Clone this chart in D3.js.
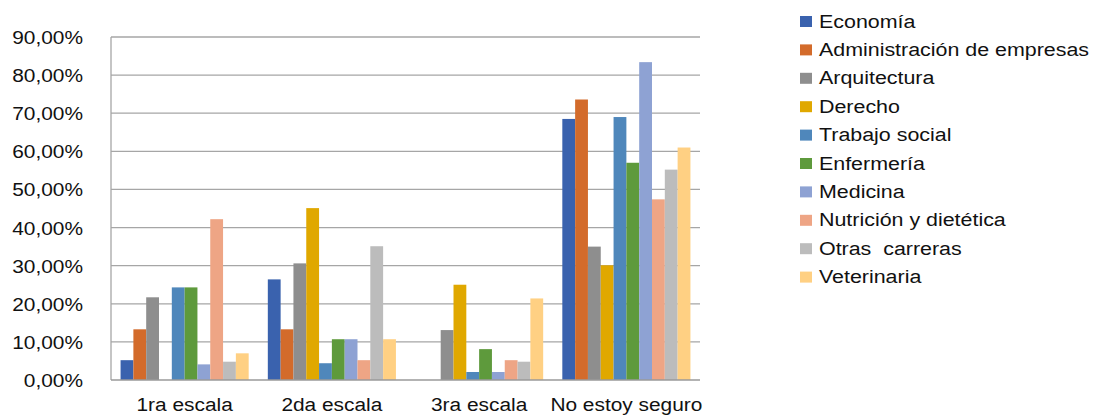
<!DOCTYPE html>
<html>
<head>
<meta charset="utf-8">
<script src="https://cdn.jsdelivr.net/npm/d3@7"></script>
<style>
  html, body { margin: 0; padding: 0; background: #ffffff; }
  svg { display: block; }
  text { font-family: "Liberation Sans", Arial, Helvetica, sans-serif; fill: #111111; }
</style>
</head>
<body>
<svg id="chart" width="1093" height="416"></svg>
<script>
const categories = ["1ra escala", "2da escala", "3ra escala", "No estoy seguro"];
const seriesNames = ["Economía", "Administración de empresas", "Arquitectura", "Derecho",
  "Trabajo social", "Enfermería", "Medicina", "Nutrición y dietética", "Otras  carreras", "Veterinaria"];
const seriesColors = ["#3A62AE", "#D36B2B", "#8E8E8E", "#E0A800", "#4F87BB",
  "#5E9A3C", "#8EA2D3", "#EEA585", "#BCBCBC", "#FFD083"];
// values in percent, one array per series, in category order
const economia      = [5.2, 26.4, 0, 68.5];
const administracion = [13.3, 13.3, 0, 73.6];
const arquitectura  = [21.7, 30.6, 13.1, 35.0];
const derecho       = [0, 45.1, 25.0, 30.1];
const trabajoSocial = [24.3, 4.4, 2.1, 69.0];
const enfermeria    = [24.3, 10.7, 8.1, 57.0];
const medicina      = [4.1, 10.7, 2.1, 83.4];
const nutricion     = [42.2, 5.2, 5.2, 47.4];
const otras         = [4.8, 35.1, 4.8, 55.2];
const veterinaria   = [7.0, 10.7, 21.4, 61.0];
const seriesValues = [economia, administracion, arquitectura, derecho, trabajoSocial,
  enfermeria, medicina, nutricion, otras, veterinaria];
const yTicks = [0, 10, 20, 30, 40, 50, 60, 70, 80, 90];
const tickLabel = v => v.toFixed(2).replace(".", ",") + "%";

const svg = d3.select("#chart");
const plot = { left: 111, right: 700, top: 37, bottom: 380 };
const SX = 1.16; // horizontal text stretch
const fontSize = 18;

const y = d3.scaleLinear().domain([0, 90]).range([plot.bottom, plot.top]);
const x0 = d3.scaleBand().domain(categories).range([plot.left, plot.right])
  .paddingInner(0.13).paddingOuter(0.065);
const x1 = d3.scaleBand().domain(seriesNames).range([0, x0.bandwidth()]).padding(0);

// gridlines
svg.append("g").selectAll("line").data(yTicks.filter(d => d > 0)).join("line")
  .attr("x1", plot.left).attr("x2", plot.right)
  .attr("y1", d => y(d)).attr("y2", d => y(d))
  .attr("stroke", "#A6A6A6").attr("stroke-width", 1.3);

// left axis line
svg.append("line").attr("x1", plot.left).attr("x2", plot.left)
  .attr("y1", plot.top).attr("y2", plot.bottom)
  .attr("stroke", "#A6A6A6").attr("stroke-width", 1.3);

// bars
const groups = svg.append("g").selectAll("g").data(categories).join("g")
  .attr("transform", d => `translate(${x0(d)},0)`);
groups.selectAll("rect")
  .data((c, ci) => seriesNames.map((s, si) => ({ s, si, v: seriesValues[si][ci] })))
  .join("rect")
  .attr("x", d => x1(d.s))
  .attr("width", x1.bandwidth())
  .attr("y", d => y(d.v))
  .attr("height", d => y(0) - y(d.v))
  .attr("fill", d => seriesColors[d.si]);

// bottom axis line
svg.append("line").attr("x1", plot.left).attr("x2", plot.right)
  .attr("y1", plot.bottom).attr("y2", plot.bottom)
  .attr("stroke", "#9A9A9A").attr("stroke-width", 1.3);

// y axis labels
const yAxis = d3.axisLeft(y).tickValues(yTicks).tickFormat(tickLabel).tickSize(0).tickPadding(0);
const gy = svg.append("g").attr("transform", `translate(${plot.left - 28},0)`).call(yAxis);
gy.select(".domain").remove();
gy.selectAll("text").attr("font-size", fontSize).attr("fill", "#111111")
  .attr("font-family", "Liberation Sans, Arial, sans-serif")
  .attr("transform", `scale(${SX},1)`)
  .attr("x", 0).attr("dy", "0.36em");

// x axis labels
const xAxis = d3.axisBottom(x0).tickSize(0).tickPadding(0);
const gx = svg.append("g").attr("transform", `translate(0,${plot.bottom + 31})`).call(xAxis);
gx.select(".domain").remove();
gx.selectAll("text").attr("font-size", fontSize).attr("fill", "#111111")
  .attr("font-family", "Liberation Sans, Arial, sans-serif")
  .attr("transform", `scale(${SX},1)`).attr("y", 0).attr("dy", 0);

// legend
const legend = svg.append("g").attr("transform", "translate(800,16)");
const rowH = 28.4;
const items = legend.selectAll("g").data(seriesNames).join("g")
  .attr("transform", (d, i) => `translate(0,${i * rowH})`);
items.append("rect").attr("width", 12).attr("height", 11)
  .attr("fill", (d, i) => seriesColors[i]);
items.append("text").attr("x", 0).attr("y", 0)
  .attr("transform", `translate(19,11.5) scale(1.19,1)`)
  .attr("font-size", fontSize)
  .style("white-space", "pre")
  .attr("xml:space", "preserve")
  .text(d => d);
</script>
</body>
</html>
